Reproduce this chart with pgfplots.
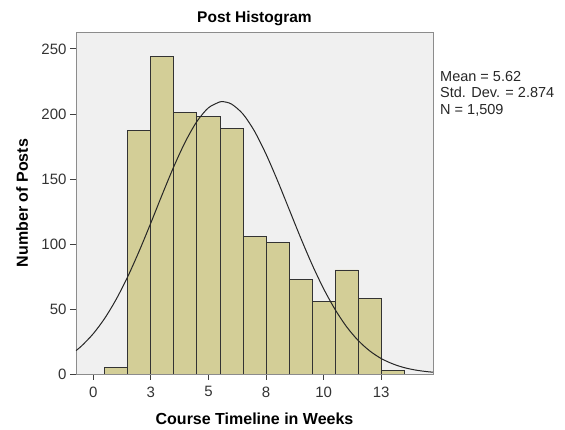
\documentclass[border=0pt]{standalone}
\usepackage{pgfplots}
\pgfplotsset{compat=1.18}
\usepackage{fontspec}
\setmainfont{Liberation Sans}
\definecolor{barfill}{RGB}{211,206,151}
\definecolor{bgfill}{RGB}{240,240,240}
\begin{document}
\begin{tikzpicture}
\begin{axis}[name=ax, scale only axis, width=357pt, height=342pt,
  xmin=-0.75, xmax=14.75, ymin=0, ymax=263,
  axis background/.style={fill=bgfill},
  axis line style={draw=black!45, line width=0.8pt},
  xtick={0,2.5,5,7.5,10,12.5}, xticklabels={0,3,5,8,10,13},
  ytick={0,50,100,150,200,250},
  tick align=outside, xtick pos=bottom, ytick pos=left,
  major tick length=6pt,
  tick style={black!75, line width=0.8pt},
  /pgf/number format/assume math mode=true,
  tick label style={font=\fontsize{15}{17}\selectfont, text=black!80},
  xticklabel style={yshift=-3pt},
  title={Post Histogram},
  title style={font=\bfseries\fontsize{15.5}{18}\selectfont, at={(axis description cs:0.5,1)}, yshift=3.6pt, anchor=base},
  xlabel={Course Timeline in Weeks},
  xlabel style={font=\bfseries\fontsize{16}{18}\selectfont, at={(axis description cs:0.5,0)}, yshift=-50.3pt, anchor=base},
  ylabel={Number of Posts},
  ylabel style={font=\bfseries\fontsize{16}{18}\selectfont, at={(axis description cs:-0.151,0.5)}, anchor=center},
]
\addplot[ybar interval, fill=barfill, draw=black!80, line width=0.9pt] coordinates {
  (0.5,5) (1.5,187) (2.5,244) (3.5,201) (4.5,198) (5.5,189) (6.5,106)
  (7.5,101) (8.5,73) (9.5,56) (10.5,80) (11.5,58) (12.5,3) (13.5,3)
};
\addplot[smooth, black!85, line width=1pt] coordinates {
  (-0.75,18.0) (-0.5,21.7) (0,31.0) (0.5,42.9) (1,57.6) (1.5,75.0) (2,94.8)
  (2.5,116.2) (3,138.3) (3.5,159.6) (4,178.7) (4.5,194.2) (5,204.7)
  (5.5,209.3) (5.62,209.5) (6,207.6) (6.5,199.9) (7,186.7) (7.5,169.1)
  (8,148.7) (8.5,126.8) (9,104.9) (9.5,84.2) (10,65.6) (10.5,49.6)
  (11,36.3) (11.5,25.8) (12,17.8) (12.5,11.9) (13,7.8) (13.5,4.9)
  (14,3.0) (14.5,1.8) (14.75,1.4)
};
\end{axis}
\node[anchor=north west, align=left, font=\fontsize{14.5}{16.5}\selectfont, inner sep=0pt, text=black!85]
  at ([xshift=7pt,yshift=-39pt]ax.north east) {Mean = 5.62\\Std. Dev. = 2.874\\N = 1,509};
\path ([xshift=-76pt,yshift=-56pt]ax.south west) rectangle ([xshift=132pt,yshift=32pt]ax.north east);
\end{tikzpicture}
\end{document}
